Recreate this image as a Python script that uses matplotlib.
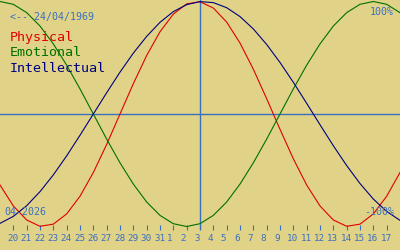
import matplotlib
matplotlib.use("Agg")
import matplotlib.pyplot as plt
from matplotlib.transforms import ScaledTranslation

# day offsets from the selected date (03/04/2026), one value per day
day_offsets = list(range(-15, 16))
day_labels = ["19", "20", "21", "22", "23", "24", "25", "26", "27", "28", "29",
              "30", "31", "1", "2", "3", "4", "5", "6", "7", "8", "9", "10",
              "11", "12", "13", "14", "15", "16", "17", "18"]

physical = [-63.1, -81.7, -94.2, -99.8, -97.9, -88.8, -73.1, -52.0, -27.0, 0.0,
            27.0, 52.0, 73.1, 88.8, 97.9, 99.8, 94.2, 81.7, 63.1, 39.8, 13.6,
            -13.6, -39.8, -63.1, -81.7, -94.2, -99.8, -97.9, -88.8, -73.1, -52.0]
emotional = [100.0, 97.5, 90.1, 78.2, 62.3, 43.4, 22.3, 0.0, -22.3, -43.4,
             -62.3, -78.2, -90.1, -97.5, -100.0, -97.5, -90.1, -78.2, -62.3,
             -43.4, -22.3, 0.0, 22.3, 43.4, 62.3, 78.2, 90.1, 97.5, 100.0,
             97.5, 90.1]
intellectual = [-97.2, -91.0, -81.5, -69.0, -54.1, -37.2, -18.9, 0.0, 18.9,
                37.2, 54.1, 69.0, 81.5, 91.0, 97.2, 99.9, 99.0, 94.5, 86.6,
                75.6, 61.8, 45.8, 28.2, 9.5, -9.5, -28.2, -45.8, -61.8, -75.6,
                -86.6, -94.5]

BG = "#e0d388"
AXIS = "#3a6fc0"
RED = "#e00000"
GREEN = "#007000"
NAVY = "#000080"
MONO = "DejaVu Sans Mono"

fig = plt.figure(figsize=(4, 2.5), dpi=100, facecolor=BG)
ax = fig.add_axes([0, 20 / 250, 1, 230 / 250], facecolor=BG)

lw = 0.8
ax.plot(day_offsets, physical, color=RED, lw=lw)
ax.plot(day_offsets, emotional, color=GREEN, lw=lw)
ax.plot(day_offsets, intellectual, color=NAVY, lw=lw)

ax.axhline(0, color=AXIS, lw=1.0, zorder=0.5)
ax.axvline(0, color=AXIS, lw=1.0, zorder=0.5)

ax.set_xlim(-15, 15)
ax.set_ylim(-103.1, 101.33)
for s in ax.spines.values():
    s.set_visible(False)
ax.set_yticks([])

ax.set_xticks(day_offsets[1:-1])
ax.set_xticklabels(day_labels[1:-1], family=MONO, fontsize=6.7, color=AXIS)
ax.tick_params(axis="x", direction="in", length=3.6, width=0.8,
               color=AXIS, pad=3)
off = ScaledTranslation(-6 / 100, 0, fig.dpi_scale_trans)
for lab in ax.get_xticklabels():
    lab.set_horizontalalignment("left")
    lab.set_transform(lab.get_transform() + off)

def px(x, y):
    return x / 400, 1 - y / 250

fig.text(*px(10, 17), "<-- 24/04/1969", family=MONO, fontsize=7.2,
         color=AXIS, va="center")
fig.text(*px(10, 38), "Physical", family=MONO, fontsize=9.6, color=RED,
         va="center")
fig.text(*px(10, 53), "Emotional", family=MONO, fontsize=9.6, color=GREEN,
         va="center")
fig.text(*px(10, 69), "Intellectual", family=MONO, fontsize=9.6, color=NAVY,
         va="center")
fig.text(*px(4, 212), "04-2026", family=MONO, fontsize=7.2, color=AXIS,
         va="center")
fig.text(*px(394, 12), "100%", family=MONO, fontsize=7.2, color=AXIS,
         va="center", ha="right")
fig.text(*px(394, 212), "-100%", family=MONO, fontsize=7.2, color=AXIS,
         va="center", ha="right")

fig.savefig("out.png", dpi=100, facecolor=BG)
